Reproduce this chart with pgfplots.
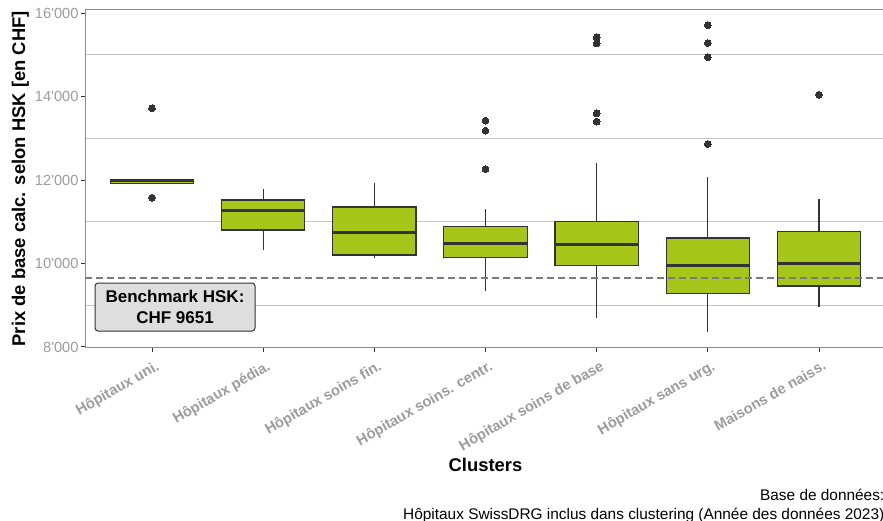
\documentclass[border=0pt]{standalone}
\usepackage{fontspec}
\setmainfont{Liberation Sans}
\usepackage{pgfplots}
\pgfplotsset{compat=1.18}
\definecolor{boxgreen}{HTML}{A7C61A}
\definecolor{dark}{HTML}{333333}
\definecolor{gridc}{HTML}{C4C4C4}
\definecolor{tickl}{HTML}{9C9C9C}
\definecolor{axc}{HTML}{8A8A8A}
\definecolor{benchfill}{HTML}{DEDEDE}
\definecolor{dashc}{HTML}{7A7A7A}
% #1 left edge, #2 position, #3 right edge, #4 lower whisker, #5 lower quartile, #6 median, #7 upper quartile, #8 upper whisker
\newcommand{\clusterbox}[8]{%
  \addplot[dark, line width=1.1pt, mark=none] coordinates {(#2,#4) (#2,#8)};
  \addplot[draw=dark, fill=boxgreen, line width=1.1pt, mark=none] coordinates {(#1,#5) (#3,#5) (#3,#7) (#1,#7)} -- cycle;
  \addplot[dark, line width=3pt, mark=none] coordinates {(#1,#6) (#3,#6)};
}
\begin{document}
\begin{tikzpicture}
\begin{axis}[
  at={(85.3pt,173.33pt)}, anchor=south west,
  scale only axis, width=800.4pt, height=337.67pt,
  xmin=0.4, xmax=7.6, ymin=7984, ymax=16073,
  axis line style={draw=axc, line width=1pt},
  xtick={1,2,3,4,5,6,7},
  xticklabels={Hôpitaux uni., Hôpitaux pédia., Hôpitaux soins fin., Hôpitaux soins. centr., Hôpitaux soins de base, Hôpitaux sans urg., Maisons de naiss.},
  ytick={8000,10000,12000,14000,16000},
  yticklabels={8\textquotesingle000,10\textquotesingle000,12\textquotesingle000,14\textquotesingle000,16\textquotesingle000},
  minor ytick={9000,11000,13000,15000},
  yminorgrids, minor grid style={draw=gridc, line width=1.1pt},
  minor tick length=0pt,
  tick align=outside, major tick length=4.5pt,
  major tick style={draw=dark, line width=1pt},
  xtick pos=bottom, ytick pos=left,
  /pgf/number format/assume math mode=true,
  yticklabel style={font=\fontsize{14.7}{17}\selectfont, text=tickl, inner sep=2pt},
  xticklabel style={xshift=3.4pt, yshift=-4.4pt, font=\bfseries\fontsize{14.7}{17}\selectfont, text=tickl, rotate=30, anchor=north east, inner sep=2pt},
]
% Hôpitaux uni.
\clusterbox{0.625}{1}{1.375}{11925}{11925}{11995}{12020}{12020}
% Hôpitaux pédia.
\clusterbox{1.625}{2}{2.375}{10323}{10802}{11281}{11521}{11777}
% Hôpitaux soins fin.
\clusterbox{2.625}{3}{3.375}{10139}{10204}{10738}{11353}{11928}
% Hôpitaux soins. centr.
\clusterbox{3.625}{4}{4.375}{9341}{10148}{10474}{10882}{11298}
% Hôpitaux soins de base
\clusterbox{4.625}{5}{5.375}{8702}{9957}{10460}{11001}{12400}
% Hôpitaux sans urg.
\clusterbox{5.625}{6}{6.375}{8352}{9286}{9947}{10611}{12065}
% Maisons de naiss.
\clusterbox{6.625}{7}{7.375}{8965}{9461}{9995}{10771}{11537}
% outliers
\addplot[only marks, mark=*, mark size=3.4pt, mark options={draw=dark, fill=dark, line width=0pt}] coordinates {
  (1,13717) (1,11576)
  (4,13420) (4,13181) (4,12263)
  (5,15418) (5,15274) (5,13598) (5,13397)
  (6,15705) (6,15281) (6,14939) (6,12862)
  (7,14043)
};
% benchmark
\addplot[dashc, line width=1.4pt, dash pattern=on 7pt off 4pt, mark=none] coordinates {(0.4,9651) (7.6,9651)};
\node[fill=benchfill, draw=dark, line width=1pt, rounded corners=3pt, minimum width=160pt, minimum height=48pt, inner sep=0pt, align=center, font=\bfseries\fontsize{17}{21.5}\selectfont] at (axis cs:1.207,8958) {Benchmark HSK:\\CHF 9651};
\end{axis}
\node[rotate=90, anchor=base, inner sep=0pt, font=\bfseries\fontsize{18.4}{22}\selectfont] at (25pt,342.2pt) {Prix de base calc. selon HSK [en CHF]};
\node[anchor=base, inner sep=0pt, font=\bfseries\fontsize{18.4}{22}\selectfont] at (485.5pt,49pt) {Clusters};
\node[anchor=base east, inner sep=0pt, font=\fontsize{15.4}{18}\selectfont] at (884.5pt,20pt) {Base de données:};
\node[anchor=base east, inner sep=0pt, font=\fontsize{15.4}{18}\selectfont] at (884.5pt,1pt) {Hôpitaux SwissDRG inclus dans clustering (Année des données 2023)};
\pgfresetboundingbox
\useasboundingbox (0,0) rectangle (883pt,521pt);
\end{tikzpicture}
\end{document}
